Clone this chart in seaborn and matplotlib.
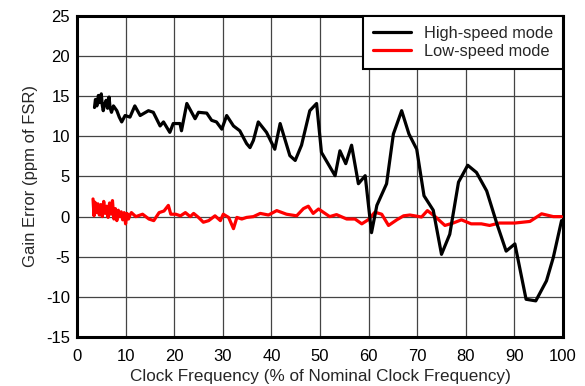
import pandas as pd
import matplotlib
matplotlib.use('Agg')
import matplotlib.pyplot as plt
import seaborn as sns

# High-speed mode (black)
hs_freq = [3.6, 3.8, 4.1, 4.4, 4.7, 5.0, 5.2, 5.4, 5.7, 6.0, 6.3, 6.6, 6.8, 7.1, 7.5, 8.2,
           8.7, 9.2, 9.9, 10.9, 11.9, 13.0, 14.7, 15.7, 17.1, 17.8, 19.1, 19.8, 21.2, 21.5,
           22.6, 24.3, 25.0, 26.7, 27.7, 28.7, 29.8, 30.8, 32.2, 33.5, 34.9, 35.6, 36.3,
           37.3, 39.0, 40.7, 41.8, 43.8, 44.9, 46.2, 47.9, 49.3, 50.3, 53.1, 54.1, 55.3,
           56.5, 57.9, 59.3, 60.6, 61.7, 63.7, 65.1, 66.8, 68.3, 69.9, 71.4, 73.3, 75.0,
           76.7, 78.5, 80.4, 82.2, 84.3, 86.4, 88.3, 90.1, 92.4, 94.4, 96.6, 98.0, 99.7]
hs_err = [13.6, 14.6, 13.8, 15.1, 14.2, 15.3, 13.9, 13.2, 14.0, 14.5, 13.5, 14.9, 13.6, 13.0,
          13.8, 13.2, 12.4, 11.8, 12.6, 12.4, 13.8, 12.6, 13.2, 13.0, 11.3, 11.8, 10.5, 11.6,
          11.6, 10.7, 14.1, 12.2, 13.0, 12.9, 12.0, 11.8, 10.9, 12.6, 11.3, 10.7, 9.1, 8.6,
          9.5, 11.8, 10.5, 8.4, 11.6, 7.6, 7.0, 8.9, 13.2, 14.1, 8.0, 5.1, 8.2, 6.6, 8.9,
          4.1, 5.1, -2.0, 1.4, 4.1, 10.3, 13.2, 10.3, 8.4, 2.6, 0.8, -4.7, -2.2, 4.3, 6.4,
          5.5, 3.2, -0.9, -4.3, -3.4, -10.3, -10.5, -8.0, -5.1, -0.5]

# Low-speed mode (red)
ls_freq = [3.3, 3.5, 3.7, 4.0, 4.3, 4.6, 4.9, 5.2, 5.5, 5.8, 6.1, 6.4, 6.7, 7.0, 7.3, 7.6,
           7.9, 8.2, 8.5, 8.8, 9.1, 9.4, 9.7, 10.0, 10.3, 10.6, 10.9, 11.2, 12.1, 13.5, 14.8,
           15.8, 16.9, 17.9, 18.8, 19.3, 20.3, 21.3, 22.3, 23.3, 24.0, 25.0, 26.0, 27.1,
           28.4, 29.5, 30.1, 31.2, 32.2, 32.9, 33.9, 34.9, 36.3, 37.7, 39.4, 41.1, 43.1,
           45.2, 46.6, 47.6, 48.6, 49.7, 52.0, 53.4, 55.5, 57.2, 58.6, 59.9, 61.3, 62.7,
           64.1, 65.8, 67.2, 68.5, 70.9, 72.1, 73.7, 75.7, 77.4, 79.1, 81.1, 83.2, 84.9,
           86.9, 90.1, 93.2, 95.6, 98.0, 99.7]
ls_err = [2.2, 0.1, 1.8, 0.5, 1.6, 0.2, 1.5, 0.0, 1.9, 0.4, 1.3, -0.1, 1.7, 0.3, 2.0, -0.3,
          1.0, -0.5, 0.8, 0.0, 0.6, -0.4, 0.5, -0.9, 0.4, -0.3, 0.2, 0.5, 0.0, 0.3, -0.3,
          -0.5, 0.5, 0.7, 1.4, 0.3, 0.3, 0.1, 0.5, 0.0, 0.4, -0.1, -0.7, -0.5, 0.1, -0.5,
          0.3, -0.1, -1.5, -0.1, -0.3, -0.1, 0.0, 0.4, 0.2, 0.75, 0.3, 0.1, 1.0, 1.3, 0.4,
          0.95, 0.0, 0.25, -0.3, -0.3, -0.9, -0.4, 0.55, 0.3, -1.1, -0.4, 0.1, 0.2, -0.05,
          0.75, 0.0, -1.1, -0.8, -0.4, -0.9, -0.9, -1.1, -0.8, -0.8, -0.6, 0.35, 0.0, 0.0]

sns.set_theme(style='white')
plt.rcParams['font.family'] = ['Liberation Sans', 'DejaVu Sans']
plt.rcParams['axes.unicode_minus'] = False

fig = plt.figure(figsize=(5.85, 3.86), dpi=100)
ax = fig.add_axes([0.1316, 0.127, 0.8308, 0.8315])

hs = pd.DataFrame({'freq': hs_freq, 'err': hs_err})
ls = pd.DataFrame({'freq': ls_freq, 'err': ls_err})
sns.lineplot(data=hs, x='freq', y='err', color='black', linewidth=2.3,
             estimator=None, sort=False, ax=ax, label='High-speed mode', zorder=4)
sns.lineplot(data=ls, x='freq', y='err', color='#ff0000', linewidth=2.3,
             estimator=None, sort=False, ax=ax, label='Low-speed mode', zorder=3)

ax.set_xlim(0, 100)
ax.set_ylim(-15, 25)
ax.set_xticks(range(0, 101, 10))
ax.set_yticks(range(-15, 26, 5))
ax.grid(True, color='#444444', linewidth=0.9)
ax.tick_params(axis='both', length=0, labelsize=12, colors='black')
ax.tick_params(axis='x', pad=9)
ax.tick_params(axis='y', pad=5)
for s in ax.spines.values():
    s.set_color('black')
    s.set_linewidth(2.2)

ax.set_xlabel('Clock Frequency (% of Nominal Clock Frequency)', fontsize=12.3, labelpad=3)
ax.set_ylabel('Gain Error (ppm of FSR)', fontsize=12, labelpad=6)

leg = ax.legend(loc='upper right', borderaxespad=0, fontsize=11.8, fancybox=False,
                framealpha=1, edgecolor='black', handlelength=2.3, labelspacing=0.2,
                borderpad=0.6)
leg.get_frame().set_linewidth(1.5)

plt.savefig('out.png', dpi=100)
plt.close()
